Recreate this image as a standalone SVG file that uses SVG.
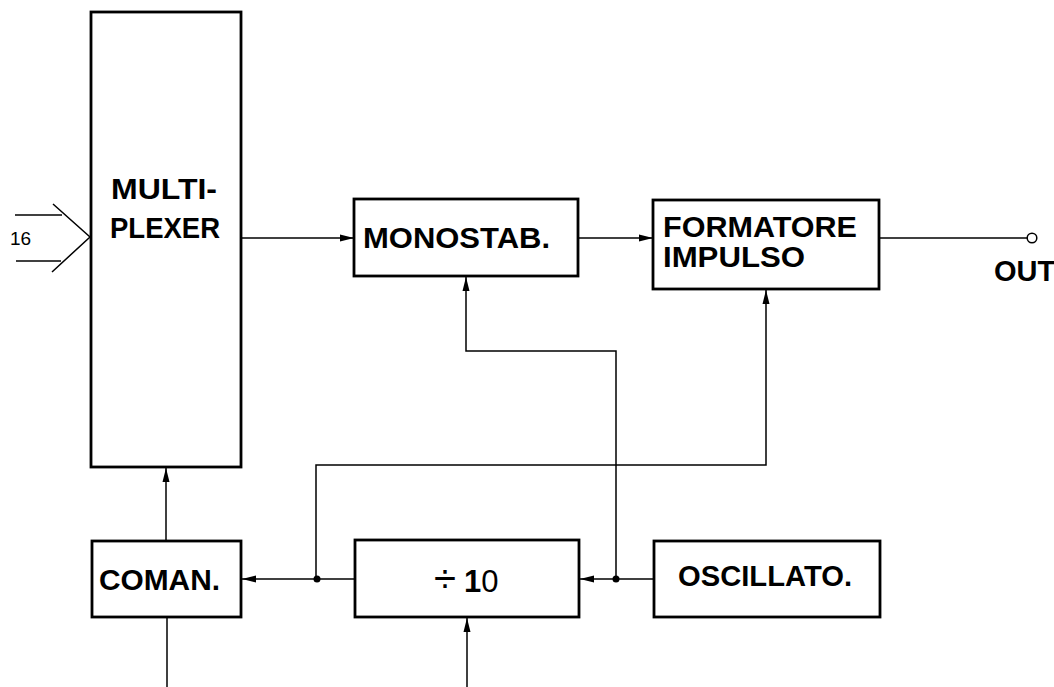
<svg xmlns="http://www.w3.org/2000/svg" width="1054" height="687" viewBox="0 0 1054 687">
<style>
.box{fill:#fff;stroke:#000;stroke-width:2.8}
.lbl{font-family:"Liberation Sans",Arial,sans-serif;font-weight:bold;font-size:29px;fill:#000}
.ln{fill:none;stroke:#000;stroke-width:1.5}
.arr{marker-end:url(#ah)}
</style>
<defs>
<marker id="ah" viewBox="0 0 14 9" refX="14" refY="4.5" markerWidth="14" markerHeight="9" markerUnits="userSpaceOnUse" orient="auto">
<path d="M0,1 L14,4.5 L0,8 Z" fill="#000"/>
</marker>
</defs>
<rect width="1054" height="687" fill="#fff"/>
<g id="connectors">
<line class="ln" x1="15" y1="215" x2="62" y2="215"/>
<line class="ln" x1="16" y1="261" x2="61" y2="261"/>
<polyline class="ln" points="53,204 90,237 52,272"/>
<line class="ln arr" x1="241" y1="238" x2="354" y2="238"/>
<line class="ln arr" x1="578" y1="238" x2="653" y2="238"/>
<line class="ln" x1="879" y1="238" x2="1027" y2="238"/>
<circle cx="1032" cy="238" r="4.8" fill="#fff" stroke="#000" stroke-width="1.5"/>
<polyline class="ln arr" points="616,579 616,351 466,351 466,277"/>
<polyline class="ln arr" points="316,579 316,465 766,465 766,290"/>
<line class="ln arr" x1="654" y1="579" x2="580" y2="579"/>
<line class="ln arr" x1="355" y1="579" x2="242" y2="579"/>
<circle cx="616" cy="579" r="3.5" fill="#000"/>
<circle cx="317" cy="579" r="3.5" fill="#000"/>
<line class="ln arr" x1="166" y1="541" x2="166" y2="468"/>
<line class="ln" x1="167" y1="617" x2="167" y2="687"/>
<line class="ln arr" x1="467" y1="687" x2="467" y2="618"/>
</g>
<g id="input-label">
<text x="10" y="245" font-family="Liberation Sans,Arial,sans-serif" font-size="19" fill="#000">16</text>
</g>
<g id="multiplexer">
<rect class="box" x="91" y="12" width="150" height="455"/>
<text class="lbl" x="111" y="199" textLength="106" lengthAdjust="spacingAndGlyphs">MULTI-</text>
<text class="lbl" x="110" y="238" textLength="110" lengthAdjust="spacingAndGlyphs">PLEXER</text>
</g>
<g id="monostab">
<rect class="box" x="354" y="199" width="224" height="77"/>
<text class="lbl" x="363" y="248" textLength="187" lengthAdjust="spacingAndGlyphs">MONOSTAB.</text>
</g>
<g id="formatore">
<rect class="box" x="653" y="200" width="226" height="89"/>
<text class="lbl" x="663" y="237" textLength="194" lengthAdjust="spacingAndGlyphs">FORMATORE</text>
<text class="lbl" x="663" y="267" textLength="142" lengthAdjust="spacingAndGlyphs">IMPULSO</text>
</g>
<g id="out">
<text class="lbl" x="994" y="281" font-size="24">OUT</text>
</g>
<g id="coman">
<rect class="box" x="92" y="541" width="149" height="76"/>
<text class="lbl" x="99" y="590" textLength="121" lengthAdjust="spacingAndGlyphs">COMAN.</text>
</g>
<g id="divider">
<rect class="box" x="355" y="540" width="224" height="77"/>
<text x="434" y="592" font-family="Liberation Sans,Arial,sans-serif" font-size="30" fill="#000"><tspan font-size="40">÷</tspan><tspan dx="8" font-size="31" font-weight="bold">1</tspan><tspan font-size="31">0</tspan></text>
</g>
<g id="oscillato">
<rect class="box" x="654" y="541" width="226" height="76"/>
<text class="lbl" x="678" y="586" font-size="26" textLength="174" lengthAdjust="spacingAndGlyphs">OSCILLATO.</text>
</g>
</svg>
